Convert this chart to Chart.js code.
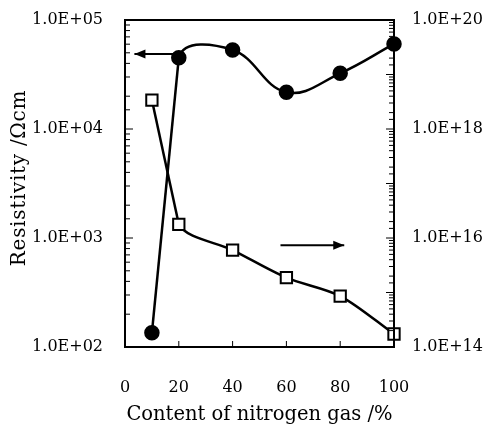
<!DOCTYPE html>
<html>
<head>
<meta charset="utf-8">
<script src="https://cdn.jsdelivr.net/npm/chart.js@4.4.0/dist/chart.umd.min.js"></script>
<style>
  html, body { margin: 0; padding: 0; background: #fff; }
  #wrap { width: 494px; height: 428px; }
</style>
</head>
<body>
<div id="wrap"><canvas id="chart"></canvas></div>
<script>
// nitrogen content (%) and the two measured series
const nitrogen = [10, 20, 40, 60, 80, 100];
const resistivity = [135, 45100, 53000, 21700, 32400, 60300];   // left axis, Ohm cm
const carrier = [3.4e18, 1.78e16, 6.0e15, 1.87e15, 8.6e14, 1.73e14]; // right axis
const xTicks = [0, 20, 40, 60, 80, 100];
// arrows: [xFrom, xTo, yValue]
const leftArrow = [18, 3.5, 48700];
const rightArrow = [57.8, 81.5, 7.4e15];

const serif = 'DejaVu Serif';

function sci(v) {
    const e = Math.round(Math.log10(v));
    return '1.0E+' + (e < 10 ? '0' + e : e);
}
function isPow10(v) {
    const e = Math.log10(v);
    return Math.abs(e - Math.round(e)) < 1e-9;
}
const pts = arr => nitrogen.map((n, i) => ({ x: n, y: arr[i] }));
// first segment is drawn straight by a separate dataset
const hideFirst = { borderColor: c => c.p0DataIndex === 0 ? 'rgba(0,0,0,0)' : '#000' };

const frame = {
    id: 'frame',
    afterDraw(chart) {
        const ctx = chart.ctx;
        const a = chart.chartArea;
        const x = chart.scales.x, y = chart.scales.y, y2 = chart.scales.y2;
        ctx.save();
        ctx.strokeStyle = '#000';
        ctx.lineWidth = 2;
        ctx.strokeRect(a.left, a.top, a.right - a.left, a.bottom - a.top);

        ctx.lineWidth = 1;
        ctx.beginPath();
        y.ticks.forEach(t => {
            const p = y.getPixelForValue(t.value);
            const len = isPow10(t.value) ? 8 : 5;
            ctx.moveTo(a.left, p); ctx.lineTo(a.left + len, p);
        });
        y2.ticks.forEach(t => {
            const p = y2.getPixelForValue(t.value);
            const len = isPow10(t.value) ? 8 : 5;
            ctx.moveTo(a.right, p); ctx.lineTo(a.right - len, p);
        });
        xTicks.slice(1, -1).forEach(v => {
            const p = x.getPixelForValue(v);
            ctx.moveTo(p, a.bottom); ctx.lineTo(p, a.bottom - 6);
        });
        ctx.stroke();

        // arrows
        ctx.lineWidth = 2;
        const arrow = (x0, x1, py) => {
            ctx.beginPath();
            ctx.moveTo(x0, py); ctx.lineTo(x1, py);
            ctx.stroke();
            const d = Math.sign(x1 - x0);
            ctx.beginPath();
            ctx.moveTo(x1, py);
            ctx.lineTo(x1 - d * 11, py - 4.5);
            ctx.lineTo(x1 - d * 11, py + 4.5);
            ctx.closePath();
            ctx.fillStyle = '#000';
            ctx.fill();
        };
        arrow(x.getPixelForValue(leftArrow[0]), x.getPixelForValue(leftArrow[1]), y.getPixelForValue(leftArrow[2]));
        arrow(x.getPixelForValue(rightArrow[0]), x.getPixelForValue(rightArrow[1]), y2.getPixelForValue(rightArrow[2]));

        // left axis title
        ctx.translate(20, 178);
        ctx.rotate(-Math.PI / 2);
        ctx.font = '20px "' + serif + '"';
        ctx.letterSpacing = '0.7px';
        ctx.fillStyle = '#000';
        ctx.textAlign = 'center';
        ctx.textBaseline = 'middle';
        ctx.fillText('Resistivity /\u03A9cm', 0, 0);
        ctx.restore();
    }
};

// keep the plot box fixed: no extra room for half-labels
const noPad = s => { s.paddingTop = 0; s.paddingBottom = 0; };

const ctx = document.getElementById('chart').getContext('2d');
new Chart(ctx, {
    type: 'line',
    data: {
        datasets: [
            {
                label: 'Resistivity',
                data: pts(resistivity),
                yAxisID: 'y',
                clip: false,
                borderColor: '#000',
                borderWidth: 2.5,
                tension: 0.4,
                segment: hideFirst,
                pointStyle: 'circle',
                pointRadius: 6.5,
                pointBackgroundColor: '#000',
                pointBorderColor: '#000',
            },
            {
                label: 'Resistivity start',
                data: pts(resistivity).slice(0, 2),
                yAxisID: 'y',
                clip: false,
                borderColor: '#000',
                borderWidth: 2.5,
                tension: 0,
                pointRadius: 0,
            },
            {
                label: 'Carrier',
                data: pts(carrier),
                yAxisID: 'y2',
                clip: false,
                borderColor: '#000',
                borderWidth: 2.5,
                tension: 0.3,
                segment: hideFirst,
                pointStyle: 'rect',
                pointRadius: 8,
                pointBorderWidth: 2,
                pointBackgroundColor: '#fff',
                pointBorderColor: '#000',
            },
            {
                label: 'Carrier start',
                data: pts(carrier).slice(0, 2),
                yAxisID: 'y2',
                clip: false,
                borderColor: '#000',
                borderWidth: 2.5,
                tension: 0,
                pointRadius: 0,
                order: 1,
            },
        ],
    },
    options: {
        responsive: true,
        maintainAspectRatio: false,
        animation: false,
        devicePixelRatio: 1,
        layout: { padding: { top: 20, left: 0, right: 0, bottom: 0 } },
        plugins: { legend: { display: false }, tooltip: { enabled: false } },
        scales: {
            x: {
                type: 'linear',
                min: 0,
                max: 100,
                afterBuildTicks: s => { s.ticks = xTicks.map(v => ({ value: v })); },
                ticks: { font: { family: serif, size: 16 }, color: '#000', padding: 31, maxRotation: 0 },
                grid: { display: false, drawTicks: false },
                border: { display: false },
                title: {
                    display: true,
                    text: 'Content of nitrogen gas /%',
                    font: { family: serif, size: 19.5 },
                    color: '#000',
                    padding: { top: 0, bottom: 1 },
                },
                afterFit: s => { s.height = 81; s.paddingLeft = 0; s.paddingRight = 0; },
            },
            y: {
                type: 'logarithmic',
                position: 'left',
                min: 100,
                max: 1e5,
                ticks: {
                    autoSkip: false,
                    font: { family: serif, size: 16 },
                    color: '#000',
                    padding: 22,
                    callback: v => isPow10(v) ? sci(v) : '',
                },
                grid: { display: false, drawTicks: false },
                border: { display: false },
                afterFit: s => { s.width = 125; noPad(s); },
            },
            y2: {
                type: 'logarithmic',
                position: 'right',
                min: 1e14,
                max: 1e20,
                ticks: {
                    autoSkip: false,
                    font: { family: serif, size: 16 },
                    color: '#000',
                    padding: 18,
                    callback: v => (isPow10(v) && Math.round(Math.log10(v)) % 2 === 0) ? sci(v) : '',
                },
                grid: { display: false, drawTicks: false },
                border: { display: false },
                afterFit: s => { s.width = 100; noPad(s); },
            },
        },
    },
    plugins: [frame],
});
</script>
</body>
</html>
